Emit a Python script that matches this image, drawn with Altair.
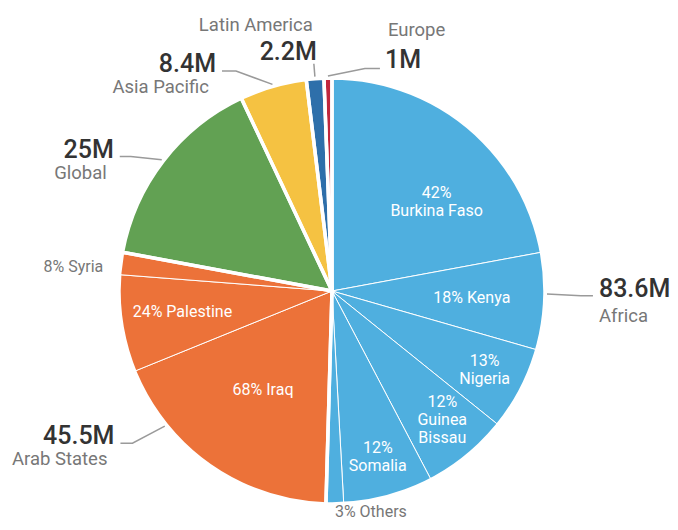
import numpy as np
import pandas as pd
import altair as alt

# ---------------- data ----------------
regions = ["Africa", "Arab States", "Global", "Asia Pacific", "Latin America", "Europe"]
region_values = [83.6, 45.5, 25.0, 8.4, 2.2, 1.0]
region_value_labels = ["83.6M", "45.5M", "25M", "8.4M", "2.2M", "1M"]
region_colors = ["#4FAFDF", "#EC7239", "#62A153", "#F5C242", "#2E6FAA", "#C0273D"]

sub_regions = ["Africa"] * 6 + ["Arab States"] * 3
sub_names = ["Burkina Faso", "Kenya", "Nigeria", "Guinea Bissau", "Somalia", "Others",
             "Iraq", "Palestine", "Syria"]
# slice sizes (millions) as drawn in the picture
sub_values = [36.6, 12.2, 10.5, 10.8, 11.3, 2.2, 30.5, 12.2, 2.8]
sub_labels = ["42%\nBurkina Faso", "18% Kenya", "13%\nNigeria", "12%\nGuinea\nBissau",
              "12%\nSomalia", "3% Others", "68% Iraq", "24% Palestine", "8% Syria"]

# ---------------- layout ----------------
W, H = 662, 514
CX, CY = 324, 283
R = 213
FONT = "Roboto"
LH = 18

# label radius, angle shift (deg), inside/outside
label_layout = {
    "Burkina Faso": (137, 10, "in"),
    "Kenya": (140, 0, "in"),
    "Nigeria": (172, 0, "in"),
    "Guinea Bissau": (170, -1, "in"),
    "Somalia": (172, 0, "in"),
    "Others": (R + 8, 0, "out"),
    "Iraq": (121, 0, "in"),
    "Palestine": (151, 1, "in"),
    "Syria": (R + 17, -1.5, "out"),
}
# leader: angle shift, elbow extra radius, horizontal length, label side
region_layout = {
    "Africa": (0.3, 36, 12, "right"),
    "Arab States": (1.6, 38, -12, "left"),
    "Global": (-3.9, 29, -11, "left"),
    "Asia Pacific": (-7.5, 27, -14, "left"),
    "Latin America": (0.0, 15, 0, "up"),
    "Europe": (9.5, 12, 15, "upright"),
}


def polar(a_deg, r):
    a = np.radians(a_deg)
    return CX + r * np.sin(a), CY - r * np.cos(a)


# slices
rows = []
idx = 0
for reg, val in zip(regions, region_values):
    subs = [(n, v, l) for n, v, l, rr in zip(sub_names, sub_values, sub_labels, sub_regions) if rr == reg]
    if subs:
        for n, v, l in subs:
            rows.append(dict(region=reg, name=n, value=v, idx=idx, label=l))
            idx += 1
    else:
        rows.append(dict(region=reg, name=reg, value=val, idx=idx, label=""))
        idx += 1
slices = pd.DataFrame(rows)
total = slices["value"].sum()
slices["end"] = slices["value"].cumsum()
slices["start"] = slices["end"] - slices["value"]
slices["mid"] = (slices["start"] + slices["end"]) / 2 / total * 360

region_df = pd.DataFrame(dict(region=regions, value=region_values, idx=range(len(regions))))
region_df["end"] = region_df["value"].cumsum()
region_df["mid"] = (region_df["end"] - region_df["value"] / 2) / total * 360

texts = []
for _, s in slices.iterrows():
    if s["name"] in label_layout:
        r, d, kind = label_layout[s["name"]]
        x, y = polar(s["mid"] + d, r)
        nl = s["label"].count("\n")
        y -= nl * LH / 2
        if kind == "in":
            align = "center"
        else:
            align = "left" if np.sin(np.radians(s["mid"])) > 0 else "right"
        texts.append(dict(x=x, y=y, text=s["label"], kind=kind, align=align))

lead = []
for _, rr in region_df.iterrows():
    d, e, h, side = region_layout[rr["region"]]
    p0 = polar(rr["mid"], R + 2)
    p1 = polar(rr["mid"] + d, R + e)
    p2 = (p1[0] + h, p1[1])
    for o, p in enumerate([p0, p1, p2]):
        lead.append(dict(region=rr["region"], o=o, x=p[0], y=p[1]))
    vlab = region_value_labels[int(rr["idx"])]
    if side == "right":
        texts.append(dict(x=p2[0] + 6, y=p2[1] + 1, text=vlab, kind="val", align="left"))
        texts.append(dict(x=p2[0] + 6, y=p2[1] + 26, text=rr["region"], kind="name", align="left"))
    elif side == "left":
        texts.append(dict(x=p2[0] - 6, y=p2[1] + 1, text=vlab, kind="val", align="right"))
        texts.append(dict(x=p2[0] - 13, y=p2[1] + 22, text=rr["region"], kind="name", align="right"))
    elif side == "up":
        texts.append(dict(x=p1[0] + 3, y=p1[1] - 4, text=vlab, kind="val", align="right"))
        texts.append(dict(x=p1[0] - 1, y=p1[1] - 33, text=rr["region"], kind="name", align="right"))
    else:
        texts.append(dict(x=p2[0] + 5, y=p2[1], text=vlab, kind="val", align="left"))
        texts.append(dict(x=p2[0] + 8, y=p2[1] - 32, text=rr["region"], kind="name", align="left"))

text_df = pd.DataFrame(texts)
lead_df = pd.DataFrame(lead)

X = alt.X("x:Q", scale=alt.Scale(domain=[0, W], nice=False, zero=False), axis=None)
Y = alt.Y("y:Q", scale=alt.Scale(domain=[0, H], nice=False, zero=False, reverse=True), axis=None)

pie = alt.Chart(slices).mark_arc(radius=R, stroke="white", strokeWidth=1).encode(
    theta=alt.Theta("value:Q", stack=True),
    color=alt.Color("region:N", scale=alt.Scale(domain=regions, range=region_colors), legend=None),
    order=alt.Order("idx:Q"),
    x=alt.value(CX), y=alt.value(CY),
)
sep = alt.Chart(region_df).mark_arc(radius=R, fillOpacity=0, stroke="white", strokeWidth=3.5).encode(
    theta=alt.Theta("value:Q", stack=True),
    order=alt.Order("idx:Q"),
    x=alt.value(CX), y=alt.value(CY),
)
leaders = alt.Chart(lead_df).mark_line(color="#9a9a9a", strokeWidth=1.5).encode(
    x=X, y=Y, detail="region:N", order="o:Q"
)

base_text = alt.Chart(text_df)


def tl(kind, align, **kw):
    return base_text.transform_filter(
        f"datum.kind == '{kind}' && datum.align == '{align}'"
    ).mark_text(align=align, font=FONT, **kw).encode(x=X, y=Y, text="text:N")


layers = [
    pie, sep, leaders,
    tl("in", "center", baseline="middle", fontSize=16, color="white", lineBreak="\n", lineHeight=LH),
    tl("out", "left", baseline="middle", fontSize=16, color="#777777"),
    tl("out", "right", baseline="middle", fontSize=16, color="#777777"),
    tl("val", "left", baseline="alphabetic", fontSize=25, fontWeight=500, color="#333333"),
    tl("val", "right", baseline="alphabetic", fontSize=25, fontWeight=500, color="#333333"),
    tl("name", "left", baseline="alphabetic", fontSize=18.5, color="#777777"),
    tl("name", "right", baseline="alphabetic", fontSize=18.5, color="#777777"),
]

chart = alt.layer(*layers).properties(
    width=W, height=H, padding=0, autosize=alt.AutoSizeParams(type="none")
).configure_view(stroke=None)

chart.save("out.html", embed_options={"renderer": "svg", "actions": False})
